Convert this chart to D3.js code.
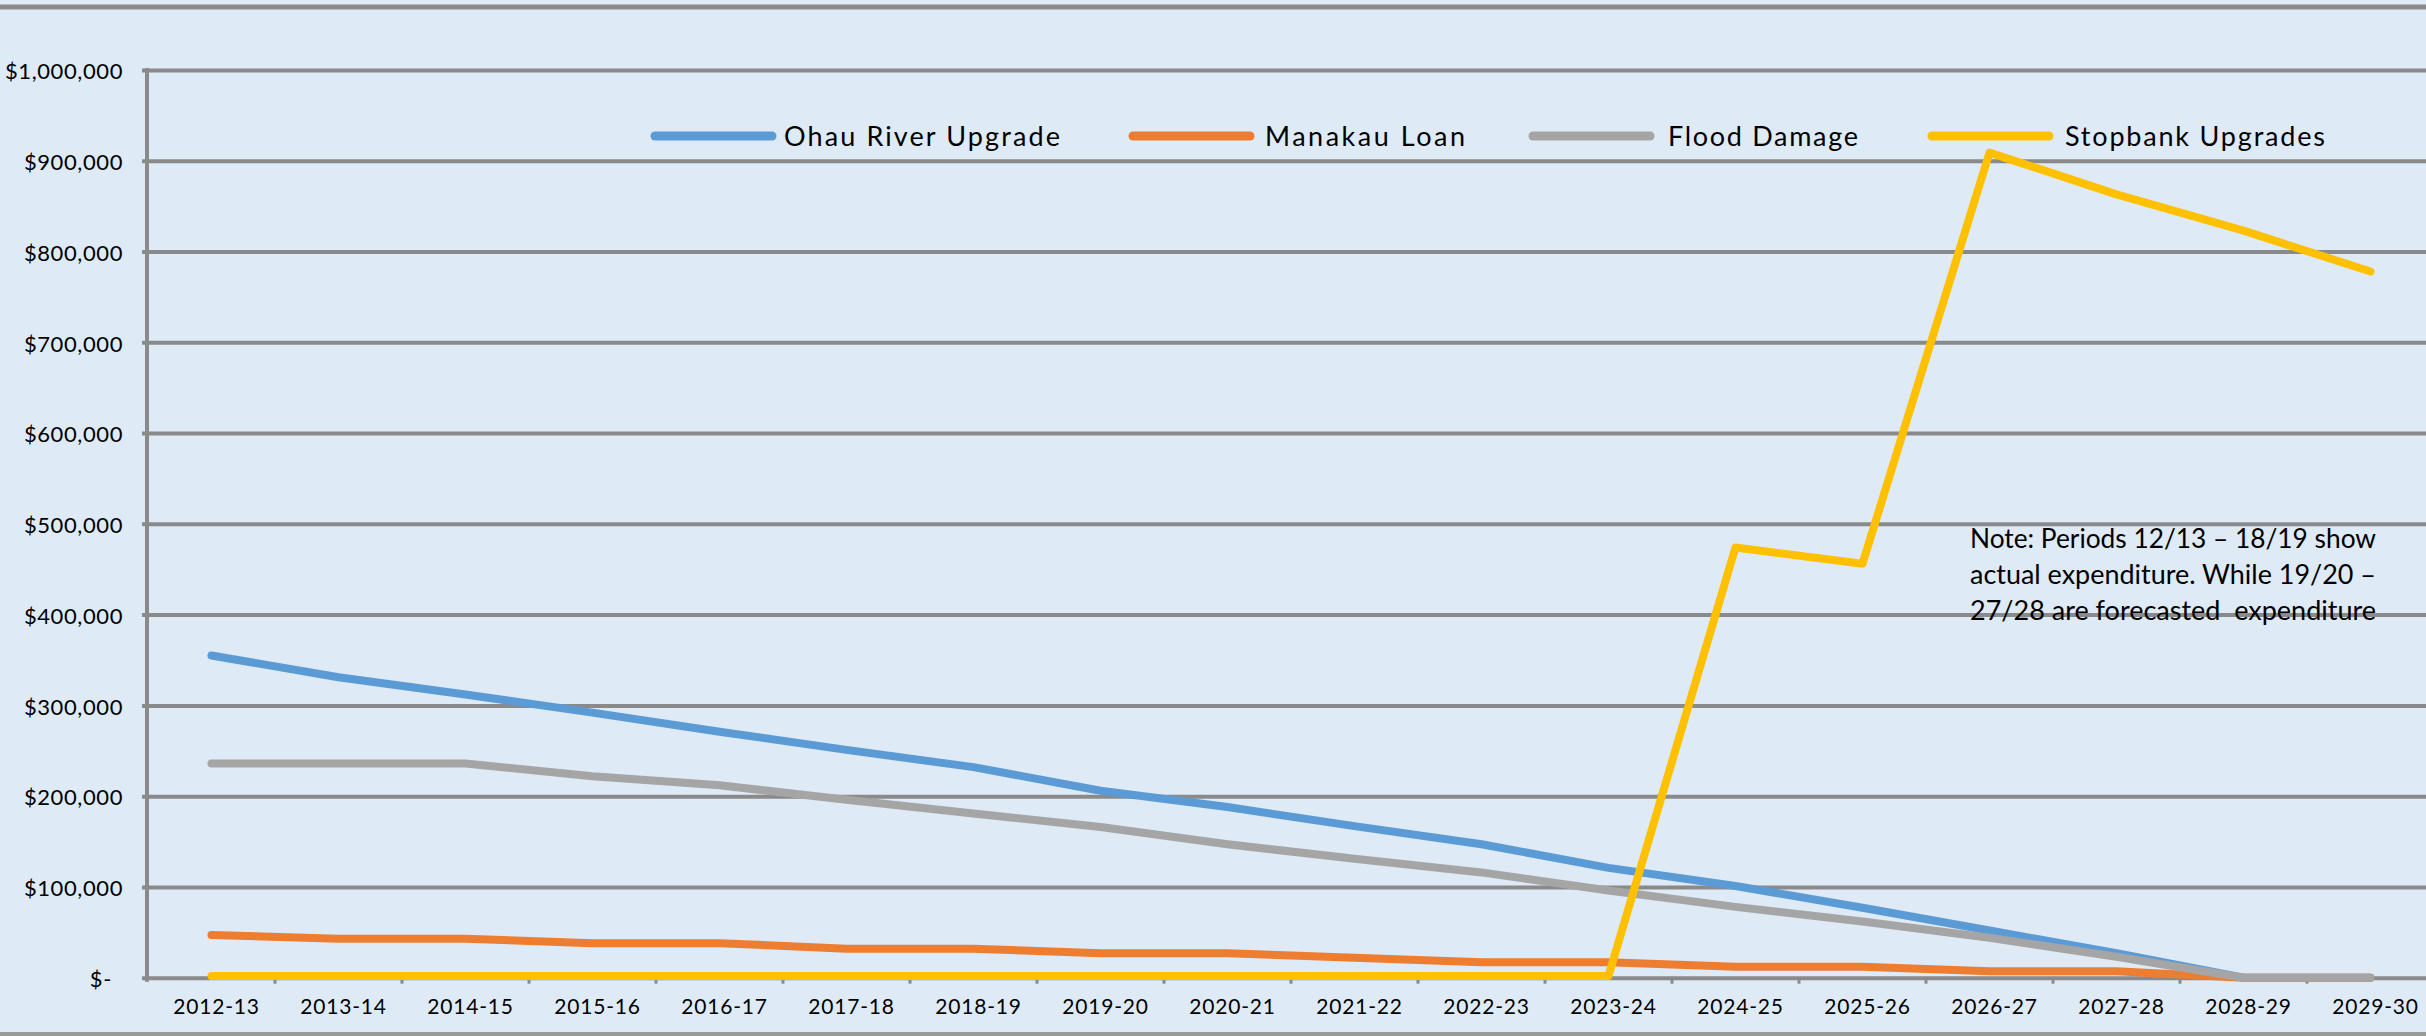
<!DOCTYPE html>
<html>
<head>
<meta charset="utf-8">
<script src="https://cdn.jsdelivr.net/npm/d3@7"></script>
<style>
  html, body { margin: 0; padding: 0; background: #DEEAF6; }
  svg { display: block; }
  text { font-family: Lato, "Open Sans", sans-serif; fill: #000; }
</style>
</head>
<body>
<svg id="chart" width="2426" height="1036"></svg>
<script>
// ---- data ----
const categories = ["2012-13","2013-14","2014-15","2015-16","2016-17","2017-18","2018-19","2019-20","2020-21","2021-22","2022-23","2023-24","2024-25","2025-26","2026-27","2027-28","2028-29","2029-30"];
const ohauRiverUpgrade = [355000,331000,312000,292000,271000,251000,232000,206000,188000,167000,147000,121000,101000,77000,52000,27000,0,0];
const manakauLoan      = [47000,43000,43000,38000,38000,32000,32000,27000,27000,22000,17000,17000,12000,12000,7000,7000,0,0];
const floodDamage      = [236000,236000,236000,222000,212000,196000,181000,166000,147000,131000,116000,96000,78000,62000,44000,23000,0,0];
const stopbankUpgrades = [2000,2000,2000,2000,2000,2000,2000,2000,2000,2000,2000,2000,474000,456000,909000,863000,823000,778000];
const seriesNames = ["Ohau River Upgrade","Manakau Loan","Flood Damage","Stopbank Upgrades"];
const yTicks = [0,100000,200000,300000,400000,500000,600000,700000,800000,900000,1000000];
const noteLines = ["Note: Periods 12/13 \u2013 18/19 show","actual expenditure. While 19/20 \u2013","27/28 are forecasted  expenditure"];

// ---- layout / style ----
const W = 2426, H = 1036;
const colors = ["#5B9BD5","#ED7D31","#A5A5A5","#FFC000"];
const gridColor = "#8A8A8A";
const svg = d3.select("#chart");

svg.append("rect").attr("width", W).attr("height", H).attr("fill", "#DEEAF6");
// outer frame lines
svg.append("line").attr("x1",0).attr("x2",W).attr("y1",7).attr("y2",7).attr("stroke",gridColor).attr("stroke-width",5);
svg.append("line").attr("x1",0).attr("x2",W).attr("y1",1034).attr("y2",1034).attr("stroke","#9A9A9A").attr("stroke-width",4);

const x = d3.scaleBand().domain(categories).range([148, 2434]).paddingInner(0).paddingOuter(0);
const xc = c => x(c) + x.bandwidth() / 2;
const y = d3.scaleLinear().domain([0, 1000000]).range([977.7, 70]);

// Y axis with gridlines
const fmt = v => v === 0 ? "$-" : "$" + d3.format(",")(v);
const yAxis = d3.axisLeft(y).tickValues(yTicks).tickFormat(fmt).tickSize(0).tickPadding(0);
const gy = svg.append("g").attr("transform", "translate(147,0)").call(yAxis);
gy.select(".domain").remove();
gy.selectAll(".tick line").remove();
gy.selectAll(".tick").insert("line", "text")
  .attr("x1", -5).attr("x2", W - 147).attr("y1", 0).attr("y2", 0)
  .attr("stroke", gridColor).attr("stroke-width", 4);
gy.selectAll(".tick text")
  .attr("x", d => d === 0 ? -35 : -24)
  .attr("dy", "0.4em")
  .style("font-size", "22px")
  .style("letter-spacing", "0.6px")
  .attr("text-anchor", "end")
  .style("font-family", "Lato, sans-serif")
  .attr("fill", "#000");
// y axis line
svg.append("line").attr("x1",147).attr("x2",147).attr("y1",y(1000000)-2).attr("y2",y(0)+4)
  .attr("stroke", gridColor).attr("stroke-width", 4);

// X axis labels
const xAxis = d3.axisBottom(x).tickSize(0).tickPadding(0);
const gx = svg.append("g").attr("transform", "translate(0," + y(0) + ")").call(xAxis);
gx.select(".domain").remove();
gx.selectAll(".tick text")
  .attr("x", 5)
  .attr("y", 36).attr("dy", 0)
  .style("font-size", "21px")
  .style("letter-spacing", "0.8px")
  .style("font-family", "Lato, sans-serif")
  .attr("fill", "#000");
// boundary ticks
svg.append("g").selectAll("line").data(categories.slice(1)).join("line")
  .attr("x1", d => x(d)).attr("x2", d => x(d))
  .attr("y1", y(0)).attr("y2", y(0) + 6)
  .attr("stroke", gridColor).attr("stroke-width", 3);

// Lines
const allSeries = [ohauRiverUpgrade, manakauLoan, floodDamage, stopbankUpgrades];
const line = d3.line().x((d, i) => xc(categories[i])).y(d => y(d));
svg.append("g").selectAll("path").data(allSeries).join("path")
  .attr("d", d => line(d))
  .attr("fill", "none")
  .attr("stroke", (d, i) => colors[i])
  .attr("stroke-width", 8)
  .attr("stroke-linecap", "round")
  .attr("stroke-linejoin", "round");

// Legend
const legendPos = [
  {lx: 655, tx: 784, tw: 276},
  {lx: 1133, tx: 1265, tw: 200},
  {lx: 1533, tx: 1668, tw: 190},
  {lx: 1932, tx: 2065, tw: 260}
];
const lg = svg.append("g");
seriesNames.forEach((name, i) => {
  const p = legendPos[i];
  lg.append("line").attr("x1", p.lx).attr("x2", p.lx + 117).attr("y1", 136).attr("y2", 136)
    .attr("stroke", colors[i]).attr("stroke-width", 9).attr("stroke-linecap", "round");
  lg.append("text").attr("x", p.tx).attr("y", 136).attr("dy", "0.36em")
    .style("font-size", "27px")
    .attr("textLength", p.tw).attr("lengthAdjust", "spacing")
    .text(name);
});

// Note
svg.append("g").selectAll("text").data(noteLines).join("text")
  .attr("x", 1970).attr("y", (d, i) => 539 + i * 36).attr("dy", "0.36em")
  .style("font-size", "26px")
  .style("white-space", "pre")
  .attr("xml:space", "preserve")
  .attr("textLength", 406).attr("lengthAdjust", "spacingAndGlyphs")
  .text(d => d);
</script>
</body>
</html>
